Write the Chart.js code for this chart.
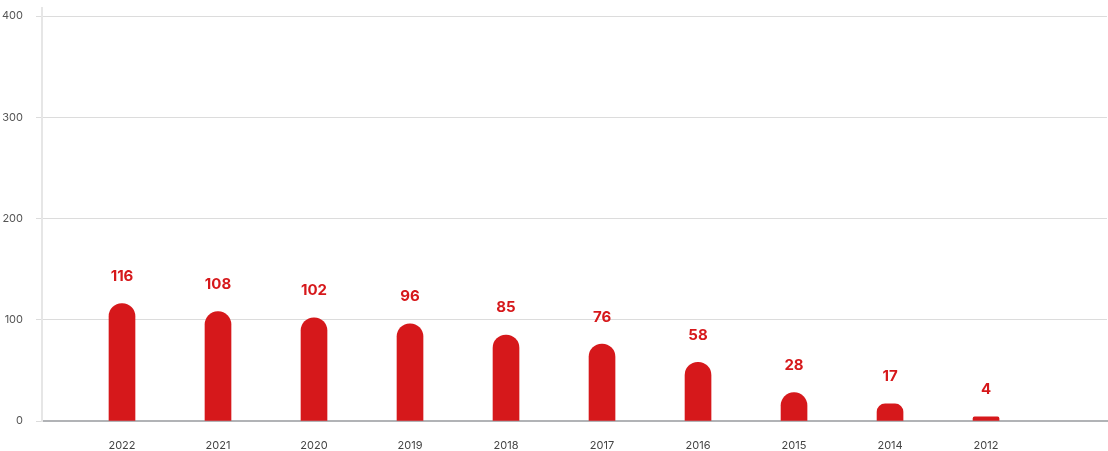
<!DOCTYPE html>
<html>
<head>
<meta charset="utf-8">
<script src="https://cdn.jsdelivr.net/npm/chart.js@4.4.1/dist/chart.umd.min.js"></script>
<style>
  html, body { margin: 0; padding: 0; background: #ffffff; }
  canvas { display: block; }
</style>
</head>
<body>
<canvas id="chart" width="1108" height="451"></canvas>
<script>
// Yearly counts, newest year first
const years = ['2022', '2021', '2020', '2019', '2018', '2017', '2016', '2015', '2014', '2012'];
const counts = [116, 108, 102, 96, 85, 76, 58, 28, 17, 4];
const yTicks = [0, 100, 200, 300, 400];

const RED = '#d6181b';
const FONT = 'Inter, Roboto, sans-serif';

// Writes each bar's value above its rounded top
const valueLabels = {
  id: 'valueLabels',
  afterDatasetsDraw(chart) {
    const ctx = chart.ctx;
    const meta = chart.getDatasetMeta(0);
    ctx.save();
    ctx.fillStyle = RED;
    ctx.font = '700 15px ' + FONT;
    ctx.textAlign = 'center';
    ctx.textBaseline = 'middle';
    meta.data.forEach((bar, i) => {
      ctx.fillText(String(counts[i]), bar.x, bar.y - 27);
    });
    ctx.restore();
  }
};

new Chart(document.getElementById('chart'), {
  type: 'bar',
  data: {
    datasets: [{
      label: 'count',
      data: counts.map((v, i) => ({ x: i, y: v })),
      backgroundColor: RED,
      barThickness: 26,
      borderRadius: { topLeft: 13, topRight: 13, bottomLeft: 0, bottomRight: 0 },
      borderSkipped: 'bottom'
    }]
  },
  plugins: [valueLabels],
  options: {
    responsive: false,
    animation: false,
    layout: { padding: { top: 8, right: 1, left: 0, bottom: 0 } },
    plugins: {
      legend: { display: false },
      tooltip: { enabled: false }
    },
    scales: {
      x: {
        type: 'linear',
        offset: false,
        min: -0.8333,
        max: 10.26,
        afterBuildTicks(scale) {
          scale.ticks = years.map((_, i) => ({ value: i }));
        },
        afterFit(scale) {
          scale.height = 30;
          scale.paddingLeft = 0;
          scale.paddingRight = 0;
        },
        grid: { display: false, drawTicks: false },
        border: { display: true, color: '#b1b3b6', width: 2 },
        ticks: {
          padding: 18,
          color: '#444444',
          font: { family: FONT, size: 11 },
          maxRotation: 0,
          autoSkip: false,
          callback: (v) => years[v] ?? ''
        }
      },
      y: {
        min: 0,
        max: 408,
        afterBuildTicks(scale) {
          scale.ticks = yTicks.map(v => ({ value: v }));
        },
        afterFit(scale) {
          scale.width = 42;
          scale.paddingTop = 0;
          scale.paddingBottom = 0;
        },
        grid: { color: '#dcdcdc', lineWidth: 1, tickLength: 6 },
        border: { display: true, color: '#e6e6e6', width: 2 },
        ticks: {
          padding: 13,
          color: '#555555',
          font: { family: FONT, size: 11 }
        }
      }
    }
  }
});
</script>
</body>
</html>
